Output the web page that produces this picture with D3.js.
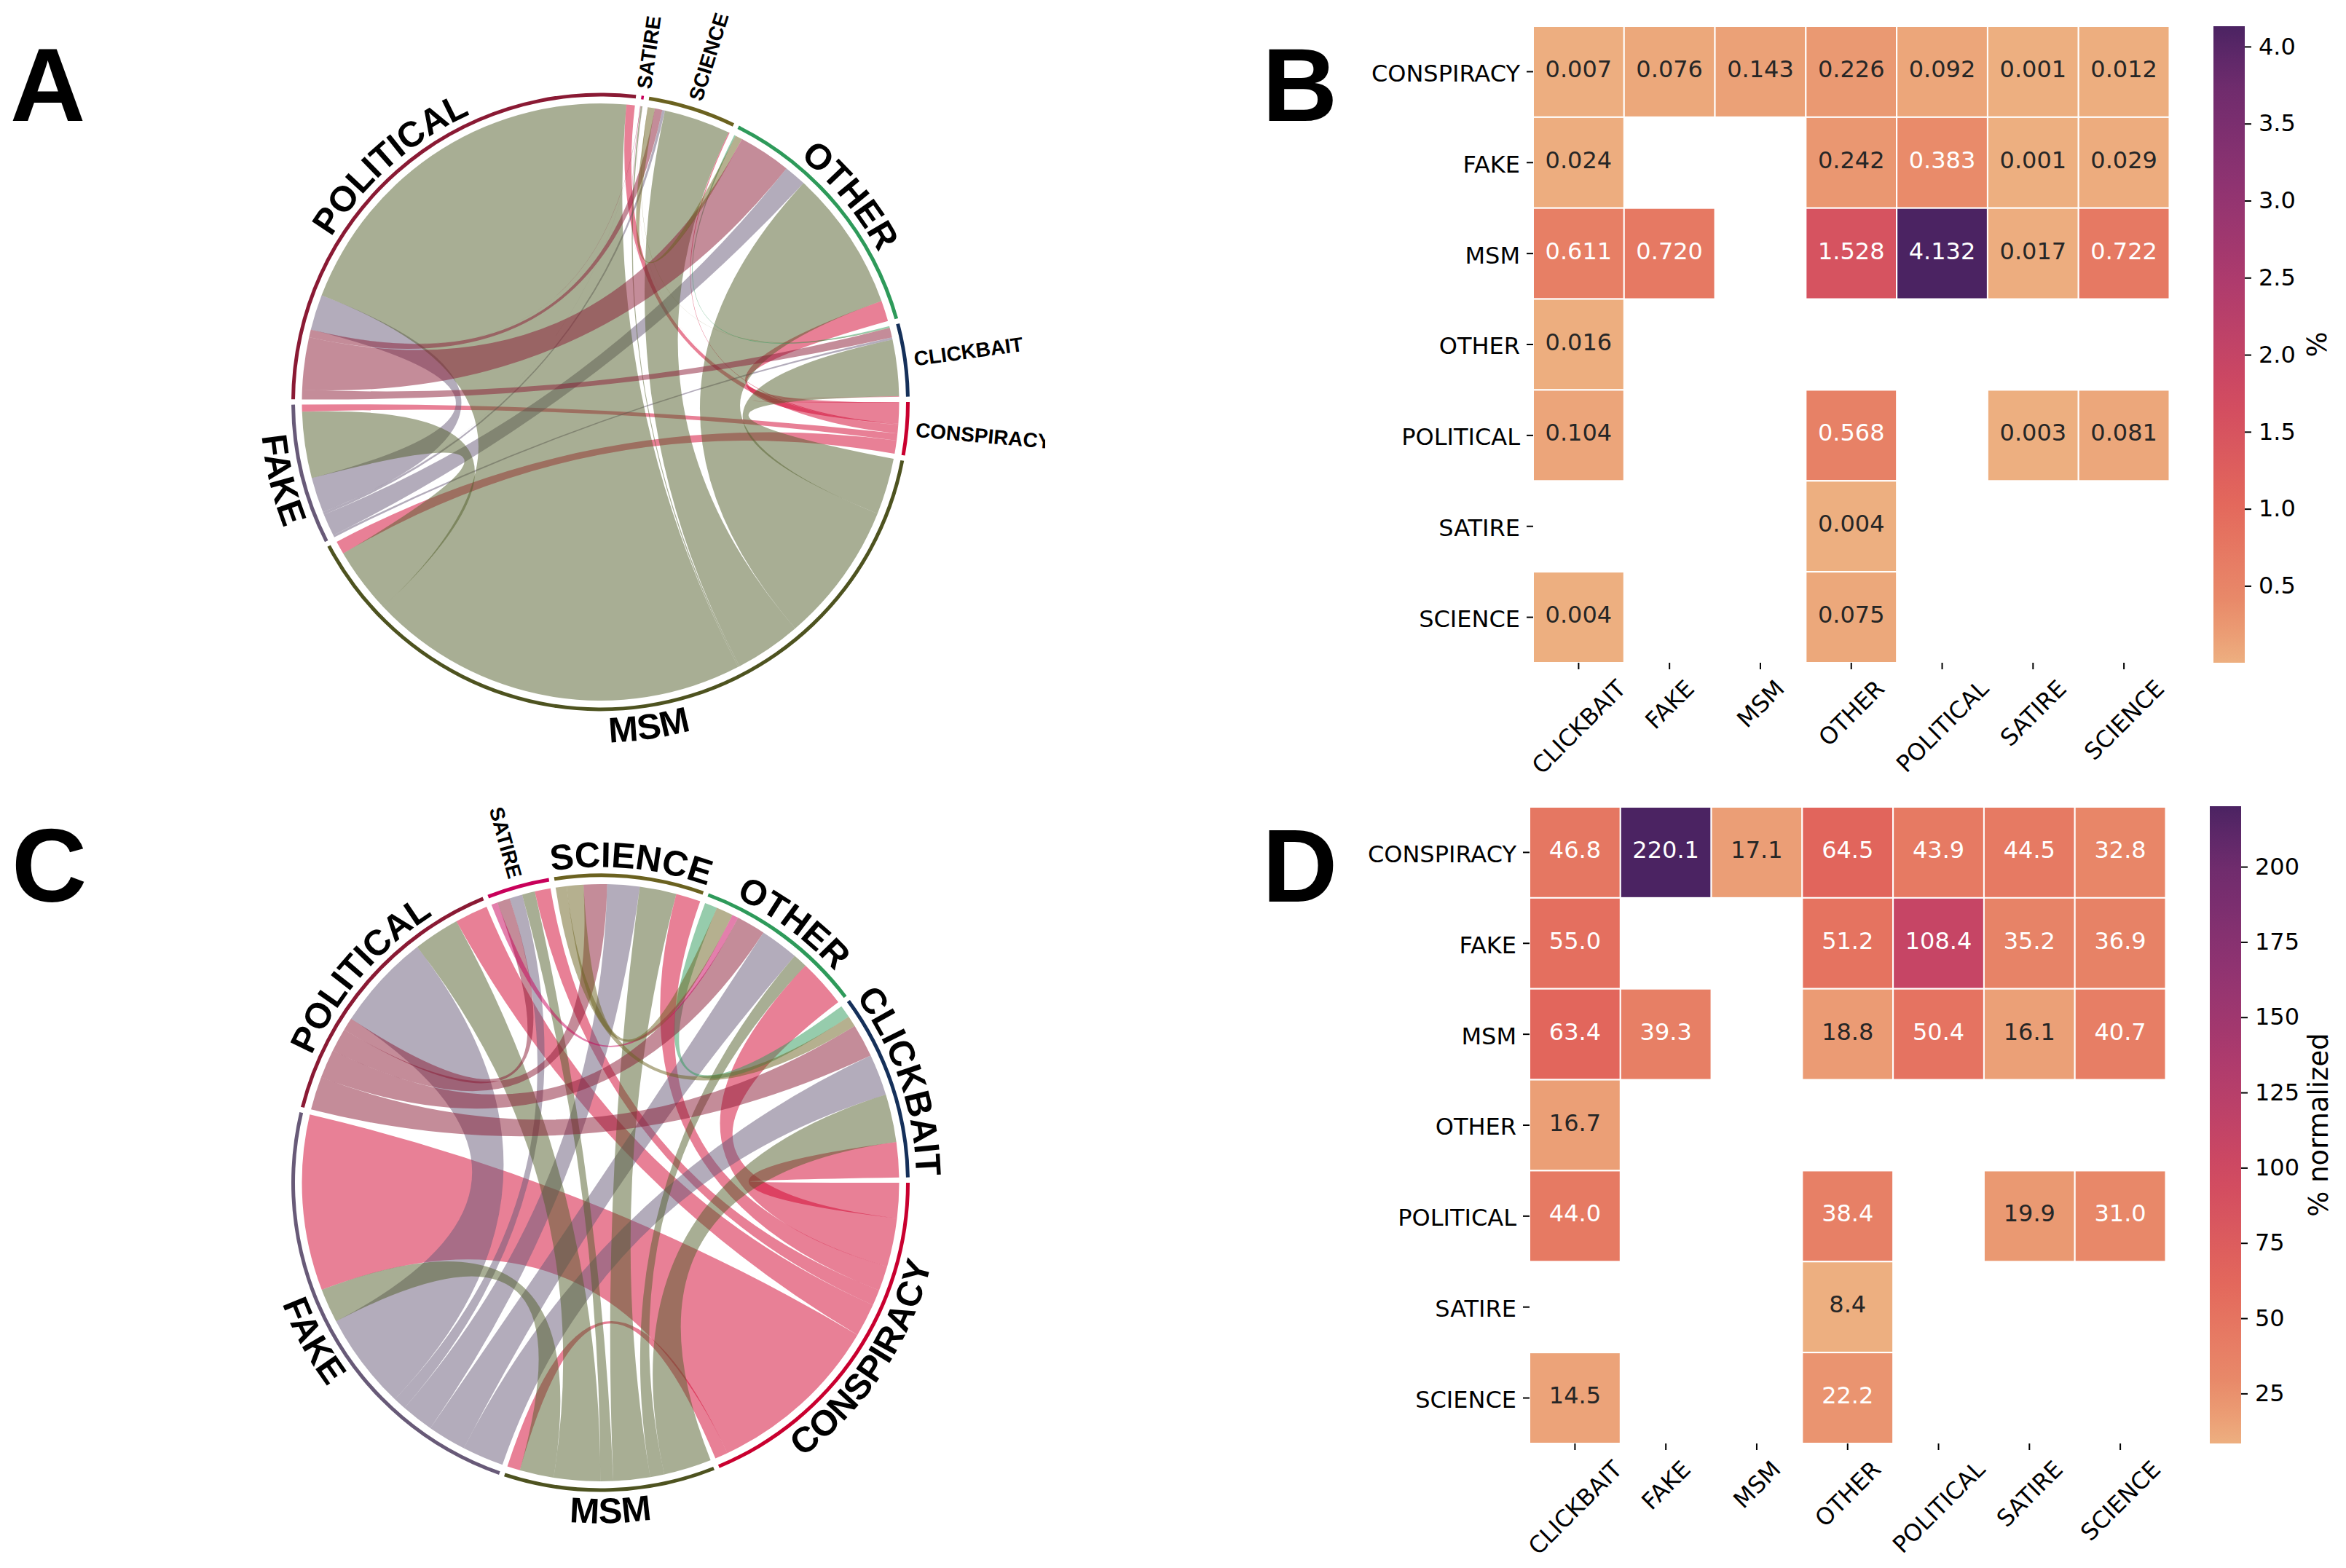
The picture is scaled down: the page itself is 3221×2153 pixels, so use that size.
<!DOCTYPE html>
<html><head><meta charset="utf-8">
<script src="https://cdn.jsdelivr.net/npm/d3@7/dist/d3.min.js"></script>
<style>html,body{margin:0;padding:0;background:#fff}svg{display:block}</style>
</head><body><svg id="fig" width="3221" height="2153" viewBox="0 0 3221 2153"></svg>
<script>
const categories = ["CLICKBAIT","FAKE","MSM","OTHER","POLITICAL","SATIRE","SCIENCE"];
const rowLabels  = ["CONSPIRACY","FAKE","MSM","OTHER","POLITICAL","SATIRE","SCIENCE"];

// Panel B: % of links, rows = source, columns = target
const rowConspiracyB = [0.007,0.076,0.143,0.226,0.092,0.001,0.012];
const rowFakeB       = [0.024,null,null,0.242,0.383,0.001,0.029];
const rowMsmB        = [0.611,0.720,null,1.528,4.132,0.017,0.722];
const rowOtherB      = [0.016,null,null,null,null,null,null];
const rowPoliticalB  = [0.104,null,null,0.568,null,0.003,0.081];
const rowSatireB     = [null,null,null,0.004,null,null,null];
const rowScienceB    = [0.004,null,null,0.075,null,null,null];
const matrixB = [rowConspiracyB,rowFakeB,rowMsmB,rowOtherB,rowPoliticalB,rowSatireB,rowScienceB];

// Panel D: % normalized
const rowConspiracyD = [46.8,220.1,17.1,64.5,43.9,44.5,32.8];
const rowFakeD       = [55.0,null,null,51.2,108.4,35.2,36.9];
const rowMsmD        = [63.4,39.3,null,18.8,50.4,16.1,40.7];
const rowOtherD      = [16.7,null,null,null,null,null,null];
const rowPoliticalD  = [44.0,null,null,38.4,null,19.9,31.0];
const rowSatireD     = [null,null,null,8.4,null,null,null];
const rowScienceD    = [14.5,null,null,22.2,null,null,null];
const matrixD = [rowConspiracyD,rowFakeD,rowMsmD,rowOtherD,rowPoliticalD,rowSatireD,rowScienceD];

// Panel C: ribbon widths (they differ a little from panel D's table)
const rowConspiracyC = [46.8,233.6,17.1,64.5,43.9,21.0,32.8];
const rowFakeC       = [55.0,null,null,51.2,128.4,17.0,42.9];
const rowMsmC        = [63.4,45.3,null,18.8,61.4,17.0,48.7];
const rowOtherC      = [16.7,null,null,null,null,null,null];
const rowPoliticalC  = [44.0,null,null,38.4,null,17.0,31.0];
const rowSatireC     = [null,null,null,8.4,null,null,null];
const rowScienceC    = [14.5,null,null,22.2,null,null,null];
const matrixC = [rowConspiracyC,rowFakeC,rowMsmC,rowOtherC,rowPoliticalC,rowSatireC,rowScienceC];

// Chord sector order, clockwise from 3 o'clock
const sectorOrder = ["CONSPIRACY","MSM","FAKE","POLITICAL","SATIRE","SCIENCE","OTHER","CLICKBAIT"];
const sectorColors = {CONSPIRACY:"#c9002f",MSM:"#4e5320",FAKE:"#685a78",POLITICAL:"#8a1a34",
                      SATIRE:"#c8005a",SCIENCE:"#6b6220",OTHER:"#2e9a5a",CLICKBAIT:"#15305a"};
const ribbonColors = {CONSPIRACY:"#d1012d",MSM:"#515d29",FAKE:"#685a78",POLITICAL:"#8a1a34",
                      SATIRE:"#c8005a",SCIENCE:"#6b6220",OTHER:"#2e9a5a",CLICKBAIT:"#15305a"};
const labelModesA = {CONSPIRACY:"radial",MSM:"bend",FAKE:"bend",POLITICAL:"bend",SATIRE:"radial",SCIENCE:"radial",OTHER:"bend",CLICKBAIT:"radial"};
const labelModesC = {CONSPIRACY:"bend",MSM:"bend",FAKE:"bend",POLITICAL:"bend",SATIRE:"radial",SCIENCE:"bend",OTHER:"bend",CLICKBAIT:"bend"};

const flareStops = ["#edaf80","#e98d6b","#e3685c","#d14a61","#b13c6c","#8f3371","#6c2b6d","#4b2362"];
const flareAt    = [0,0.083,0.25,0.417,0.583,0.75,0.917,1];

const svg = d3.select("#fig");
const defs = svg.append("defs");
svg.append("rect").attr("width",3221).attr("height",2153).attr("fill","#fff");

const SANS = "'Liberation Sans',Arial,sans-serif";
const DEJAVU = "'DejaVu Sans',sans-serif";

function drawChord(matrix, cx, cy, modes, id){
  const R = 424.5, ringW = 5, rChord = 410, gap = Math.PI/180;
  const g = svg.append("g");
  const vals = [];
  matrix.forEach((row,i)=>row.forEach((v,j)=>{ if(v!=null) vals.push({s:rowLabels[i],t:categories[j],v}); }));
  const total = 2*d3.sum(vals,d=>d.v);
  const ang = d3.scaleLinear().domain([0,total]).range([0,2*Math.PI-gap*sectorOrder.length]);
  const n = sectorOrder.length;
  const groups = [];
  let cum = 0;
  sectorOrder.forEach((name,p)=>{
    const start = Math.PI/2 + ang(cum) + p*gap;
    const ccw = d3.range(1,n).map(k=>sectorOrder[(p-k+n)%n]);
    ccw.forEach(o=>{ const f=vals.find(d=>d.s===name&&d.t===o);
      if(f){ f.src={startAngle:Math.PI/2+ang(cum)+p*gap,endAngle:Math.PI/2+ang(cum+f.v)+p*gap}; cum+=f.v; }});
    ccw.forEach(o=>{ const f=vals.find(d=>d.s===o&&d.t===name);
      if(f){ f.tgt={startAngle:Math.PI/2+ang(cum)+p*gap,endAngle:Math.PI/2+ang(cum+f.v)+p*gap}; cum+=f.v; }});
    groups.push({name,startAngle:start,endAngle:Math.PI/2+ang(cum)+p*gap});
  });
  const ribbon = d3.ribbon().source(d=>d.src).target(d=>d.tgt).radius(rChord);
  g.append("g").attr("transform",`translate(${cx},${cy})`).selectAll("path").data(vals).join("path")
    .attr("d",ribbon).attr("fill",d=>ribbonColors[d.s]).attr("fill-opacity",0.5);
  const arc = d3.arc().innerRadius(R-ringW).outerRadius(R);
  g.append("g").attr("transform",`translate(${cx},${cy})`).selectAll("path").data(groups).join("path")
    .attr("d",d=>arc(d)).attr("fill",d=>sectorColors[d.name]);

  groups.forEach(d=>{
    const mid=(d.startAngle+d.endAngle)/2;
    const deg=mid*180/Math.PI;
    const norm=(mid%(2*Math.PI)+2*Math.PI)%(2*Math.PI);
    if(modes[d.name]==="radial"){
      const r=R+10, x=cx+r*Math.sin(mid), y=cy-r*Math.cos(mid);
      const right = norm<Math.PI;
      g.append("text").attr("transform",`translate(${x},${y}) rotate(${right?deg-90:deg+90})`)
        .attr("text-anchor",right?"start":"end").attr("dy","0.36em")
        .attr("font-family",SANS).attr("font-weight",700).attr("font-size",28).attr("fill","#000").text(d.name);
    } else {
      const bottom = norm>Math.PI/2 && norm<3*Math.PI/2;
      const r = bottom ? R+43 : R+9;
      const p=d3.path();
      const a=mid-Math.PI/2;
      if(bottom){ p.arc(cx,cy,r,a+1.4,a-1.4,true); } else { p.arc(cx,cy,r,a-1.4,a+1.4,false); }
      const pid=`lab${id}${d.name}`;
      defs.append("path").attr("id",pid).attr("d",p.toString());
      g.append("text").attr("font-family",SANS).attr("font-weight",700).attr("font-size",49).attr("fill","#000")
        .append("textPath").attr("href","#"+pid).attr("startOffset","50%").attr("text-anchor","middle").text(d.name);
    }
  });
  return g;
}

function lum(c){ const f=v=>{v/=255;return v<=0.03928?v/12.92:Math.pow((v+0.055)/1.055,2.4)};
  const q=d3.rgb(c); return 0.2126*f(q.r)+0.7152*f(q.g)+0.0722*f(q.b); }

function drawHeat(matrix, box, bar, fmt, barTicks, barLabel, labelX, id){
  const flat = matrix.flat().filter(v=>v!=null);
  const [vmin,vmax]=d3.extent(flat);
  const t = d3.scaleLinear().domain([vmin,vmax]).range([0,1]);
  const flare = d3.scaleLinear().domain(flareAt).range(flareStops).interpolate(d3.interpolateRgb);
  const color = v=>flare(t(v));
  const x=d3.scaleBand().domain(categories).range([box.x0,box.x1]);
  const y=d3.scaleBand().domain(rowLabels).range([box.y0,box.y1]);
  const g=svg.append("g");
  const cells=[];
  matrix.forEach((row,i)=>row.forEach((v,j)=>{ if(v!=null) cells.push({r:rowLabels[i],c:categories[j],v}); }));
  g.selectAll("rect.c").data(cells).join("rect").attr("class","c")
    .attr("x",d=>x(d.c)).attr("y",d=>y(d.r)).attr("width",x.bandwidth()).attr("height",y.bandwidth())
    .attr("fill",d=>color(d.v)).attr("stroke","#fff").attr("stroke-width",2);
  g.selectAll("text.a").data(cells).join("text").attr("class","a")
    .attr("x",d=>x(d.c)+x.bandwidth()/2).attr("y",d=>y(d.r)+y.bandwidth()/2-4).attr("dy","0.36em")
    .attr("text-anchor","middle").attr("font-family",DEJAVU).attr("font-size",32)
    .attr("fill",d=>lum(color(d.v))>0.408?"#262626":"#fff").text(d=>d3.format(fmt)(d.v));
  const ax=g.append("g").attr("transform",`translate(0,${box.y1})`).call(d3.axisBottom(x).tickSize(9).tickPadding(0));
  const ay=g.append("g").attr("transform",`translate(${box.x0},0)`).call(d3.axisLeft(y).tickSize(9).tickPadding(9));
  [ax,ay].forEach(a=>{a.select(".domain").remove(); a.selectAll("line").attr("stroke","#000").attr("stroke-width",2);
    a.selectAll("text").attr("font-family",DEJAVU).attr("font-size",32).attr("fill","#000");});
  ay.selectAll("text").attr("dy","0.42em");
  ax.selectAll("text").each(function(d){
    const w=this.getComputedTextLength(), h=32, half=(w+h)*Math.SQRT1_2/2;
    d3.select(this).attr("y",null).attr("dy","0.36em").attr("text-anchor","middle")
      .attr("transform",`translate(0,${9+9+half}) rotate(-45)`);
  });
  const gid="grad"+id;
  const grad=defs.append("linearGradient").attr("id",gid).attr("x1",0).attr("x2",0).attr("y1",1).attr("y2",0);
  d3.range(0,1.0001,0.05).forEach(o=>grad.append("stop").attr("offset",o).attr("stop-color",flare(o)));
  g.append("rect").attr("x",bar.x0).attr("y",bar.y0).attr("width",bar.x1-bar.x0).attr("height",bar.y1-bar.y0).attr("fill",`url(#${gid})`);
  const sb=d3.scaleLinear().domain([vmin,vmax]).range([bar.y1,bar.y0]);
  const ac=g.append("g").attr("transform",`translate(${bar.x1},0)`)
    .call(d3.axisRight(sb).tickValues(barTicks).tickSize(9).tickPadding(10).tickFormat(d3.format(id==="B"?".1f":"d")));
  ac.select(".domain").remove();
  ac.selectAll("line").attr("stroke","#000").attr("stroke-width",2);
  ac.selectAll("text").attr("font-family",DEJAVU).attr("font-size",32).attr("fill","#000");
  g.append("text").attr("transform",`translate(${labelX},${(bar.y0+bar.y1)/2}) rotate(-90)`)
    .attr("text-anchor","middle").attr("font-family",DEJAVU).attr("font-size",37).attr("fill","#000").text(barLabel);
}

const cropA = defs.append("clipPath").attr("id","cropA");
cropA.append("rect").attr("x",0).attr("y",0).attr("width",1435).attr("height",1060);

drawChord(matrixB, 824.5, 552, labelModesA, "A").attr("clip-path","url(#cropA)");
drawChord(matrixC, 824.5, 1624, labelModesC, "C");

drawHeat(matrixB,{x0:2105,x1:2978.5,y0:36,y1:910},{x0:3039,x1:3082,y0:36,y1:910},".3f",[0.5,1,1.5,2,2.5,3,3.5,4],"%",3194,"B");
drawHeat(matrixD,{x0:2100,x1:2973.5,y0:1108,y1:1982},{x0:3034,x1:3077,y0:1107,y1:1982},".1f",[25,50,75,100,125,150,175,200],"% normalized",3196,"D");

const panelLetters=[["A",14,166],["B",1733,166],["C",16,1238],["D",1733,1238]];
svg.selectAll("text.pl").data(panelLetters).join("text").attr("class","pl")
  .attr("x",d=>d[1]).attr("y",d=>d[2]).attr("font-family",SANS).attr("font-weight",700).attr("font-size",143).attr("fill","#000").text(d=>d[0]);
</script></body></html>
